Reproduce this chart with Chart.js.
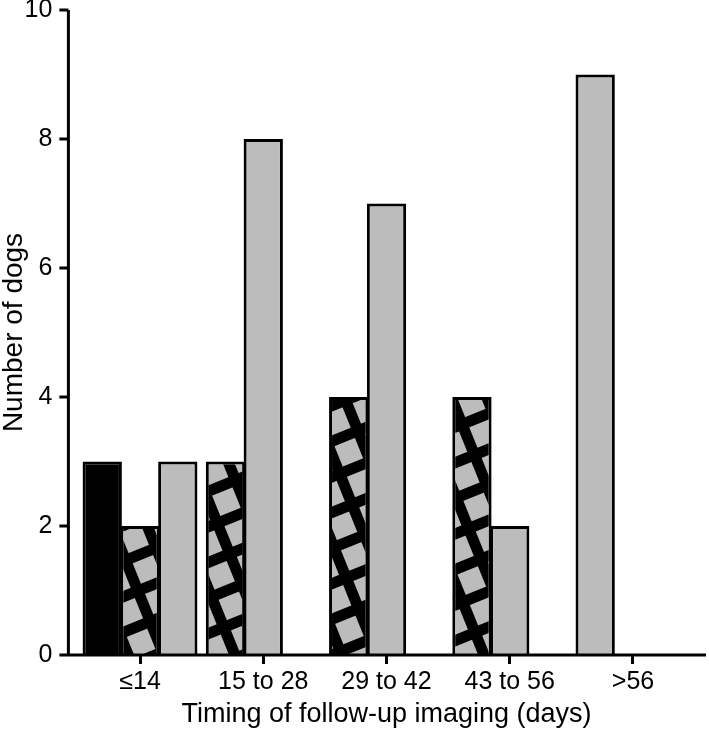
<!DOCTYPE html>
<html>
<head>
<meta charset="utf-8">
<script src="https://cdn.jsdelivr.net/npm/chart.js@4.4.1/dist/chart.umd.min.js"></script>
<style>
  html, body { margin: 0; padding: 0; background: #fff; }
  #wrap { width: 709px; height: 732px; }
</style>
</head>
<body>
<div id="wrap"><canvas id="barChart"></canvas></div>
<script>
// data
const categories = ["≤14", "15 to 28", "29 to 42", "43 to 56", ">56"];
const solidBlack = [3, null, null, null, null];
const hatched = [2, 3, 4, 4, null];
const solidGray = [3, 8, 7, 2, 9];
const yTicks = [0, 2, 4, 6, 8, 10];

const FONT = "'Liberation Sans', Arial, sans-serif";
const GRAY = "#bcbcbc";

// crosshatch: gray squares with thick black lines, tilted
function makeHatch() {
  const size = 33, line = 11;
  const c = document.createElement("canvas");
  c.width = size;
  c.height = size;
  const g = c.getContext("2d");
  g.fillStyle = GRAY;
  g.fillRect(0, 0, size, size);
  g.fillStyle = "#000";
  g.fillRect(0, 0, size, line);
  g.fillRect(0, 0, line, size);
  const pattern = g.createPattern(c, "repeat");
  pattern.setTransform(new DOMMatrix().rotateSelf(-22));
  return pattern;
}

// bars with no value are left out and the rest slide to the left of the group
const leftAlignBars = {
  id: "leftAlignBars",
  afterDatasetsUpdate(chart) {
    const metas = chart.data.datasets.map((d, i) => chart.getDatasetMeta(i));
    categories.forEach((cat, i) => {
      const slots = metas.map((m) => m.data[i].x);
      let n = 0;
      chart.data.datasets.forEach((ds, d) => {
        if (ds.data[i] !== null) {
          metas[d].data[i].x = slots[n];
          n++;
        }
      });
    });
  },
};

// axis lines the way the figure has them (y axis sits left of the first group)
const drawAxes = {
  id: "drawAxes",
  afterDatasetsDraw(chart) {
    const ctx = chart.ctx;
    const y = chart.scales.y;
    const axisX = chart.chartArea.left - 10;
    const y0 = y.getPixelForValue(0);
    const yTop = y.getPixelForValue(10);
    ctx.save();
    ctx.strokeStyle = "#000";
    ctx.lineWidth = 3;
    ctx.beginPath();
    ctx.moveTo(axisX, yTop);
    ctx.lineTo(axisX, y0 + 1.5);
    ctx.moveTo(axisX - 1.5, y0);
    ctx.lineTo(chart.width - 3, y0);
    y.ticks.forEach((t) => {
      const p = y.getPixelForValue(t.value);
      ctx.moveTo(axisX - 9, p);
      ctx.lineTo(axisX, p);
    });
    ctx.stroke();
    ctx.restore();
  },
};

const hatch = makeHatch();

const data = {
  labels: categories,
  datasets: [
    {
      label: "Solid",
      data: solidBlack,
      backgroundColor: "#000",
      borderColor: "#000",
      borderWidth: 3,
    },
    {
      label: "Hatched",
      data: hatched,
      backgroundColor: hatch,
      borderColor: "#000",
      borderWidth: 3,
    },
    {
      label: "Gray",
      data: solidGray,
      backgroundColor: GRAY,
      borderColor: "#000",
      borderWidth: 3,
    },
  ],
};

const options = {
  responsive: true,
  maintainAspectRatio: false,
  animation: false,
  layout: {
    padding: { top: 10, right: 14.4, left: 0, bottom: 0 },
  },
  datasets: {
    bar: {
      barPercentage: 1.04,
      categoryPercentage: 0.92,
    },
  },
  scales: {
    x: {
      offset: true,
      afterFit: (scale) => {
        scale.height = 77;
        scale.paddingLeft = 0;
        scale.paddingRight = 0;
      },
      border: { display: false },
      grid: {
        offset: false,
        drawOnChartArea: false,
        drawTicks: true,
        tickLength: 9,
        lineWidth: 3,
        color: "#000",
      },
      ticks: {
        color: "#000",
        padding: 3,
        maxRotation: 0,
        font: { family: FONT, size: 25 },
      },
      title: {
        display: true,
        text: "Timing of follow-up imaging (days)",
        color: "#000",
        padding: { top: 0, bottom: 4 },
        font: { family: FONT, size: 27, lineHeight: 1 },
      },
    },
    y: {
      min: 0,
      max: 10,
      afterFit: (scale) => {
        scale.width = 78.4;
        scale.paddingTop = 0;
        scale.paddingBottom = 0;
      },
      afterBuildTicks: (scale) => {
        scale.ticks = yTicks.map((v) => ({ value: v }));
      },
      border: { display: false },
      grid: { display: false, drawTicks: false, tickLength: 0 },
      ticks: {
        color: "#000",
        padding: 26,
        font: { family: FONT, size: 25 },
      },
      title: {
        display: true,
        text: "Number of dogs",
        color: "#000",
        padding: { top: 0, bottom: 0 },
        font: { family: FONT, size: 28, lineHeight: 1 },
      },
    },
  },
  plugins: {
    legend: { display: false },
    tooltip: { enabled: false },
  },
};

new Chart(document.getElementById("barChart").getContext("2d"), {
  type: "bar",
  data: data,
  options: options,
  plugins: [leftAlignBars, drawAxes],
});
</script>
</body>
</html>
